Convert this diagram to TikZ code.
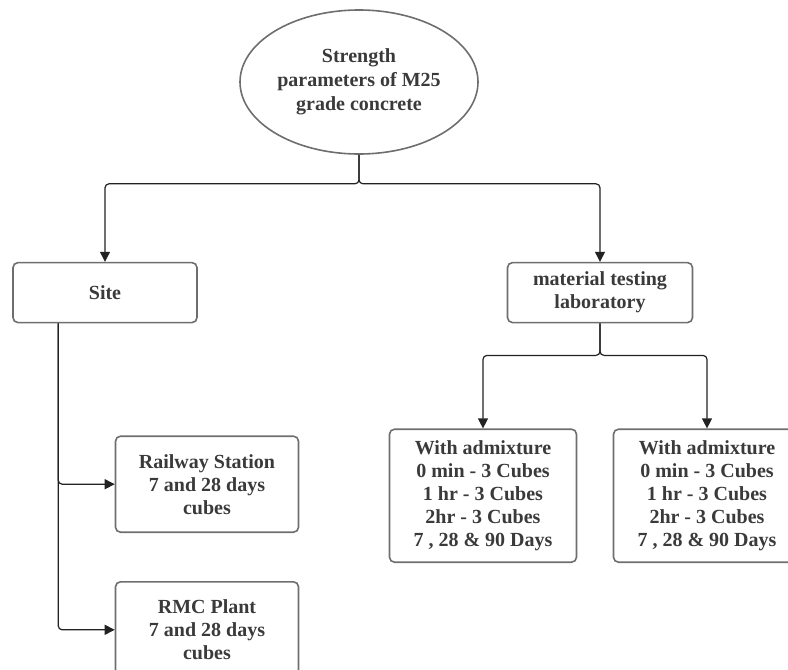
\documentclass[tikz,border=0pt]{standalone}
\usepackage{fontspec}
\setmainfont{Liberation Serif}
\usetikzlibrary{shapes.geometric, arrows.meta, positioning}
\definecolor{boxgray}{HTML}{6E6E6E}
\definecolor{textgray}{HTML}{3A3A3A}
\definecolor{linegray}{HTML}{222222}

\begin{document}
\begin{tikzpicture}[
    x=1pt, y=1pt,
    box/.style={rectangle, draw=boxgray, line width=1.6pt, rounded corners=5pt, inner sep=0pt, align=center, text=textgray, font=\fontsize{20}{23}\selectfont\bfseries},
    oval/.style={ellipse, draw=boxgray, line width=1.6pt, inner sep=0pt, minimum width=238pt, minimum height=144pt, align=center, text=textgray, font=\fontsize{20}{24}\selectfont\bfseries},
    arrow/.style={-{Triangle[length=10pt, width=10pt]}, draw=linegray, line width=1.2pt, rounded corners=4pt}
]
\clip (0,0) rectangle (788,-670);

\node[oval] (top) at (359,-82) {Strength\\parameters of M25\\grade concrete};

\node[box, minimum width=184pt, minimum height=60pt, below=107pt of top, xshift=-254pt] (site) {Site};
\node[box, minimum width=185pt, minimum height=60pt, below=107pt of top, xshift=241pt] (lab) {material testing\\laboratory};

\node[box, minimum width=183pt, minimum height=96pt, below=112pt of site, xshift=102pt] (rail) {Railway Station\\7 and 28 days\\cubes};
\node[box, minimum width=183pt, minimum height=96pt, below=48pt of rail] (rmc) {RMC Plant\\7 and 28 days\\cubes};

\node[box, minimum width=187pt, minimum height=133pt, below=105pt of lab, xshift=-117pt] (adm1) {With admixture\\0 min - 3 Cubes\\1 hr - 3 Cubes\\2hr - 3 Cubes\\7 , 28 \& 90 Days};
\node[box, minimum width=187pt, minimum height=133pt, below=105pt of lab, xshift=107pt] (adm2) {With admixture\\0 min - 3 Cubes\\1 hr - 3 Cubes\\2hr - 3 Cubes\\7 , 28 \& 90 Days};

\draw[arrow] (top.south) -- ++(0,-29) -| (site.north);
\draw[arrow] (top.south) -- ++(0,-29) -| (lab.north);
\draw[arrow] ([xshift=46pt]site.south west) |- (rail.west);
\draw[arrow] ([xshift=46pt]site.south west) |- (rmc.west);
\draw[arrow] (lab.south) -- ++(0,-32) -| (adm1.north);
\draw[arrow] (lab.south) -- ++(0,-32) -| (adm2.north);
\end{tikzpicture}
\end{document}
